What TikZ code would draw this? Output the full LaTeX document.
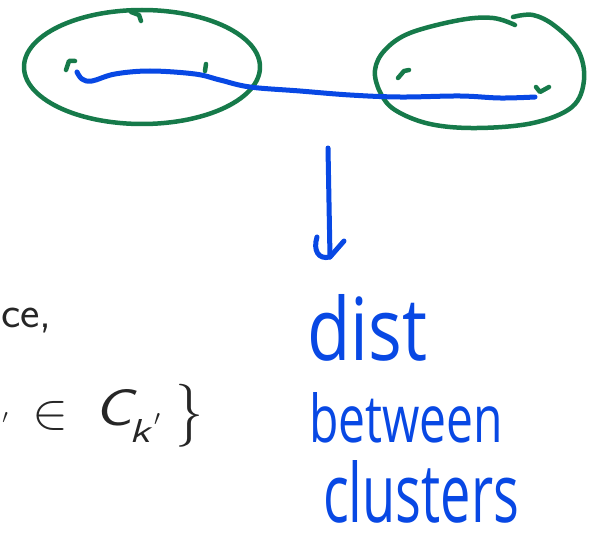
\RequirePackage{fix-cm}
\documentclass[tikz,border=0pt]{standalone}
\usepackage{fontspec}
\usepackage{graphicx}
\newfontfamily\handfont{Open Sans}
\definecolor{inkgreen}{RGB}{22,122,74}
\definecolor{inkblue}{RGB}{8,72,228}
\definecolor{slidegray}{RGB}{38,38,38}
\begin{document}
\begin{tikzpicture}[x=1pt,y=-1pt,
  greenink/.style={draw=inkgreen, line width=4.5pt, line cap=round, line join=round},
  blueink/.style={draw=inkblue, line width=5pt, line cap=round, line join=round},
  handtext/.style={inner sep=0pt, text=inkblue, font=\handfont, anchor=base west},
  slidetext/.style={inner sep=0pt, text=slidegray, font=\sffamily}]
\useasboundingbox (0,0) rectangle (598,543);
\clip (0,0) rectangle (598,543);

% left cluster
\draw[greenink] (142,67) ellipse [x radius=118, y radius=57];
\draw[greenink] (131,12) -- (139,15) -- (141,21);
% right cluster
\draw[greenink] plot[smooth, tension=0.6] coordinates {(515,25) (493,18) (460,20) (410,33) (385,50) (375,70) (380,92) (395,110) (430,124) (477,128) (533,123) (572,107) (584,80) (578,50) (555,26) (533,15) (513,17)};

% points
\coordinate (a1) at (70,65);
\coordinate (a2) at (206,68);
\coordinate (b1) at (404,73);
\coordinate (b2) at (541,89);
\draw[greenink] (66,70) -- (69,61) -- (75,61);
\draw[greenink] (206,64) -- (205,71);
\draw[greenink] (398,78) -- (404,71) -- (409,70);
\draw[greenink] (536,87) -- (540,92) -- (549,87);

% distance between clusters
\coordinate (p1) at (77,72);
\coordinate (p2) at (535,97);
\draw[blueink] plot[smooth, tension=0.6] coordinates {(p1) (82,79) (92,81) (115,74) (150,71) (195,74) (220,80) (250,87) (300,91) (350,95) (400,97) (460,96) (500,98) (p2)};

% arrow
\coordinate (ar0) at (328,148);
\coordinate (ar1) at (330,257);
\draw[blueink] (ar0) -- (ar1);
\draw[blueink] (317,237) .. controls (313,250) and (318,260) .. (ar1) -- (344,241);

% handwritten label
\node[handtext] (dist) at (307,360) {\resizebox{120pt}{66pt}{dist}};
\node[handtext] (betw) at (309,442) {\resizebox{194pt}{50pt}{between}};
\node[handtext] (clus) at (323,522) {\resizebox{196pt}{62pt}{clusters}};

% slide text fragments
\node[slidetext, anchor=base west] (ce) at (1,327) {\scalebox{1.05}[1]{\fontsize{44}{50}\selectfont ce,}};
\node[slidetext] (pr) at (5,418) {\resizebox{!}{11pt}{$\prime$}};
\node[slidetext, anchor=base west] (elem) at (32,428) {\resizebox{36pt}{27pt}{$\in$}};
\node[slidetext, anchor=base west] (cset) at (94,425) {\resizebox{38pt}{36pt}{\itshape C}};
\node[slidetext, anchor=base west] (kidx) at (129,442) {\resizebox{21pt}{23pt}{\itshape k}};
\node[slidetext] (kpr) at (157,419) {\resizebox{!}{12pt}{$\prime$}};
\node[slidetext] (brace) at (189,416) {\resizebox*{28pt}{63pt}{$\}$}};
\end{tikzpicture}
\end{document}
